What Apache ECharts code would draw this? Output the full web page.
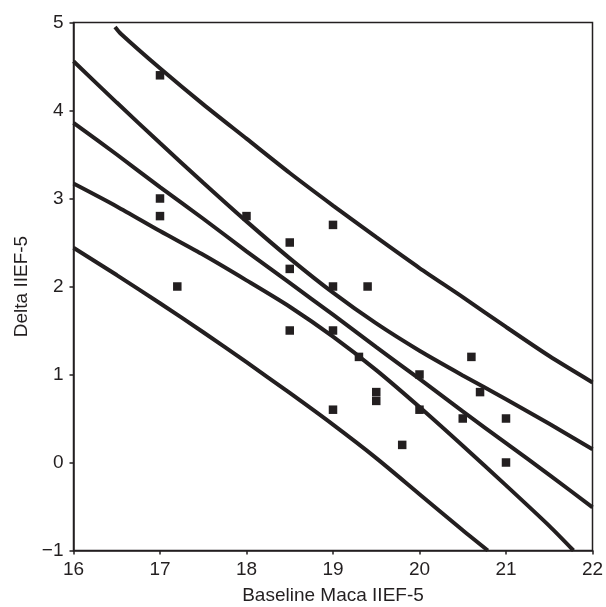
<!DOCTYPE html>
<html>
<head>
<meta charset="utf-8">
<script src="https://cdn.jsdelivr.net/npm/echarts@6/dist/echarts.min.js"></script>
<style>
html,body{margin:0;padding:0;background:#fff;}
#chart{width:606px;height:607px;}
</style>
</head>
<body>
<div id="chart"></div>
<script>
// Observed data points (Baseline Maca IIEF-5, Delta IIEF-5)
var baseline = [17, 17, 17, 17.2, 18, 18.5, 18.5, 18.5, 19, 19, 19, 19, 19.4, 19.3, 19.5, 19.5, 19.8, 20, 20, 20.5, 20.6, 20.7, 21, 21];
var delta    = [4.4, 3.0, 2.8, 2.0, 2.8, 2.5, 2.2, 1.5, 2.7, 2.0, 1.5, 0.6, 2.0, 1.2, 0.8, 0.7, 0.2, 1.0, 0.6, 0.5, 1.2, 0.8, 0.5, 0.0];

// Lines
var gridX = [16, 16.5, 17, 17.5, 18, 18.5, 19, 19.5, 20, 20.5, 21, 21.5, 22];
var regY  = [3.86, 3.50, 3.13, 2.77, 2.40, 2.04, 1.68, 1.31, 0.95, 0.58, 0.22, -0.14, -0.51];
var ciUpY = [4.56, 4.09, 3.63, 3.18, 2.74, 2.32, 1.93, 1.58, 1.27, 0.99, 0.72, 0.44, 0.15];

var ciLowX = [16, 16.5, 17, 17.5, 18, 18.5, 19, 19.5, 20, 20.5, 21, 21.5, 21.78];
var ciLowY = [3.17, 2.91, 2.63, 2.36, 2.07, 1.77, 1.43, 1.05, 0.63, 0.19, -0.26, -0.72, -1.0];

var piUpX = [16.48, 16.55, 17, 17.5, 18, 18.5, 19, 19.5, 20, 20.5, 21, 21.5, 22];
var piUpY = [4.95, 4.87, 4.48, 4.07, 3.68, 3.29, 2.92, 2.56, 2.21, 1.88, 1.54, 1.21, 0.91];

var piLowX = [16, 16.5, 17, 17.5, 18, 18.5, 19, 19.5, 20, 20.5, 20.79];
var piLowY = [2.44, 2.13, 1.81, 1.48, 1.14, 0.79, 0.43, 0.05, -0.36, -0.77, -1.0];

var xTicks = [16, 17, 18, 19, 20, 21, 22];
var yTicks = [-1, 0, 1, 2, 3, 4, 5];

function pairs(xs, ys) { return xs.map(function (x, i) { return [x, ys[i]]; }); }

var ink = '#231f20';
var font = 'Liberation Sans, Arial, Helvetica, sans-serif';
var lineStyle = { color: ink, width: 4 };
function lineSeries(xs, ys) {
  return { type: 'line', data: pairs(xs, ys), showSymbol: false, symbol: 'none', smooth: 0.25,
           lineStyle: lineStyle, silent: true, clip: true, z: 2 };
}

var chart = echarts.init(document.getElementById('chart'), null, { renderer: 'canvas' });
chart.setOption({
  animation: false,
  backgroundColor: '#fff',
  grid: { left: 73.5, right: 13.5, top: 22.5, bottom: 56.5, show: true, containLabel: false,
          outerBoundsMode: 'none',
          borderColor: ink, borderWidth: 1.5, backgroundColor: 'transparent' },
  xAxis: {
    type: 'value', min: xTicks[0], max: xTicks[xTicks.length - 1], interval: 1,
    name: 'Baseline Maca IIEF-5', nameLocation: 'middle', nameGap: 36,
    nameTextStyle: { fontFamily: font, fontSize: 19, color: ink },
    axisLine: { show: true, onZero: false, lineStyle: { color: ink, width: 1.5 } },
    axisTick: { show: true, inside: false, length: 4, lineStyle: { color: ink, width: 1.5 } },
    axisLabel: { margin: 10, fontFamily: font, fontSize: 19, color: ink },
    splitLine: { show: false }
  },
  yAxis: {
    type: 'value', min: yTicks[0], max: yTicks[yTicks.length - 1], interval: 1,
    name: 'Delta IIEF-5', nameLocation: 'middle', nameGap: 42, nameRotate: 90,
    nameTextStyle: { fontFamily: font, fontSize: 19, color: ink },
    axisLine: { show: true, onZero: false, lineStyle: { color: ink, width: 1.5 } },
    axisTick: { show: true, inside: false, length: 4, lineStyle: { color: ink, width: 1.5 } },
    axisLabel: { margin: 10, fontFamily: font, fontSize: 19, color: ink,
                 formatter: function (v) { return String(v).replace('-', '\u2212'); } },
    splitLine: { show: false }
  },
  series: [
    lineSeries(piUpX, piUpY),
    lineSeries(gridX, ciUpY),
    lineSeries(gridX, regY),
    lineSeries(ciLowX, ciLowY),
    lineSeries(piLowX, piLowY),
    { type: 'scatter', data: pairs(baseline, delta), symbol: 'rect', symbolSize: 8.5,
      itemStyle: { color: ink, opacity: 1 }, z: 3 }
  ]
});
</script>
</body>
</html>
